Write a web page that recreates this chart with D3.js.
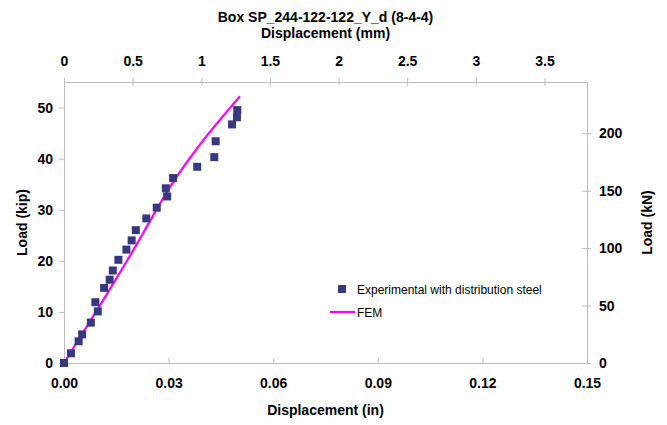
<!DOCTYPE html>
<html><head><meta charset="utf-8">
<script src="https://cdn.jsdelivr.net/npm/d3@7"></script>
<style>body{margin:0;background:#fff}svg{display:block;font-family:"Liberation Sans",Arial,sans-serif}</style>
</head><body><svg id="c" width="667" height="425"></svg>
<script>
const expDisp = [0, 0.0020, 0.0042, 0.0052, 0.0077, 0.0090, 0.0097, 0.0115, 0.0131, 0.0140, 0.0156, 0.0179, 0.0194, 0.0206, 0.0236, 0.0266, 0.0292, 0.0296, 0.0313, 0.0382, 0.0431, 0.0435, 0.0482, 0.0496, 0.0497];
const expLoad = [0, 1.9, 4.25, 5.6, 7.9, 11.9, 10.1, 14.7, 16.3, 18.1, 20.2, 22.2, 24.0, 26.0, 28.3, 30.4, 34.2, 32.6, 36.2, 38.4, 40.3, 43.4, 46.7, 48.1, 49.5];
const femDisp = [0, 0.0098, 0.0199, 0.0300, 0.0505];
const femLoad = [0, 10.7, 22.1, 34.0, 52.2];
const xTicksIn = [0, 0.03, 0.06, 0.09, 0.12, 0.15];
const xTicksMm = [0, 0.5, 1, 1.5, 2, 2.5, 3, 3.5];
const yTicksKip = [0, 10, 20, 30, 40, 50];
const yTicksKN = [0, 50, 100, 150, 200];
const title = "Box SP_244-122-122_Y_d (8-4-4)";

const L = 64, R = 587, T = 82, B = 363;
const svg = d3.select("#c");
const x = d3.scaleLinear().domain([0, 0.15]).range([L, R]);
const xmm = d3.scaleLinear().domain([0, 0.15 * 25.4]).range([L, R]);
const y = d3.scaleLinear().domain([0, 55]).range([B, T]);
const ykN = d3.scaleLinear().domain([0, 55 * 4.44822]).range([B, T]);
const axisCol = "#bdbdbd";

function style(g) {
  g.select(".domain").attr("stroke", axisCol);
  g.selectAll(".tick line").attr("stroke", axisCol);
  g.selectAll(".tick text").attr("fill", "#000").attr("font-weight", "bold").attr("font-size", 14).attr("font-family", "Liberation Sans, Arial, sans-serif");
}
const gb = svg.append("g").attr("transform", `translate(0,${B})`)
  .call(d3.axisBottom(x).tickValues(xTicksIn).tickFormat(d3.format(".2f")).tickSizeInner(-5).tickSizeOuter(0).tickPadding(15));
style(gb);
const gt = svg.append("g").attr("transform", `translate(0,${T})`)
  .call(d3.axisTop(xmm).tickValues(xTicksMm).tickFormat(d => d3.format("")(d)).tickSizeInner(4).tickSizeOuter(0).tickPadding(12));
style(gt);
gt.selectAll(".tick line").attr("y2", 4).attr("y1", -4);
const gl = svg.append("g").attr("transform", `translate(${L},0)`)
  .call(d3.axisLeft(y).tickValues(yTicksKip).tickSizeInner(5).tickSizeOuter(0).tickPadding(6));
style(gl);
const gr = svg.append("g").attr("transform", `translate(${R},0)`)
  .call(d3.axisRight(ykN).tickValues(yTicksKN).tickSizeInner(4).tickSizeOuter(0).tickPadding(8));
style(gr);
gr.selectAll(".tick line").attr("x1", -5).attr("x2", 4);

const fem = femDisp.map((d, i) => [d, femLoad[i]]);
svg.append("path").datum(fem)
  .attr("d", d3.line().curve(d3.curveMonotoneX).x(d => x(d[0])).y(d => y(d[1])))
  .attr("fill", "none").attr("stroke", "#ff00ff").attr("stroke-width", 2.2);

const exp = expDisp.map((d, i) => [d, expLoad[i]]);
const s = 8;
svg.append("g").selectAll("rect").data(exp).join("rect")
  .attr("x", d => x(d[0]) - s / 2).attr("y", d => y(d[1]) - s / 2)
  .attr("width", s).attr("height", s).attr("fill", "#383880");

svg.append("text").attr("x", 325.5).attr("y", 22).attr("text-anchor", "middle")
  .attr("font-weight", "bold").attr("font-size", 14).text(title);
svg.append("text").attr("x", 325.5).attr("y", 38).attr("text-anchor", "middle")
  .attr("font-weight", "bold").attr("font-size", 14).text("Displacement (mm)");
svg.append("text").attr("x", 325.5).attr("y", 415).attr("text-anchor", "middle")
  .attr("font-weight", "bold").attr("font-size", 14).text("Displacement (in)");
svg.append("text").attr("transform", `translate(27,${(T + B) / 2}) rotate(-90)`).attr("text-anchor", "middle")
  .attr("font-weight", "bold").attr("font-size", 14).text("Load (kip)");
svg.append("text").attr("transform", `translate(652,${(T + B) / 2}) rotate(-90)`).attr("text-anchor", "middle")
  .attr("font-weight", "bold").attr("font-size", 14).text("Load (kN)");

const lg = svg.append("g");
lg.append("rect").attr("x", 338).attr("y", 285).attr("width", 8).attr("height", 8).attr("fill", "#383880");
lg.append("text").attr("x", 357).attr("y", 293.5).attr("font-size", 12).text("Experimental with distribution steel");
lg.append("line").attr("x1", 330).attr("x2", 355).attr("y1", 312).attr("y2", 312).attr("stroke", "#ff00ff").attr("stroke-width", 2.2);
lg.append("text").attr("x", 357).attr("y", 316.5).attr("font-size", 12).text("FEM");
</script></body></html>
